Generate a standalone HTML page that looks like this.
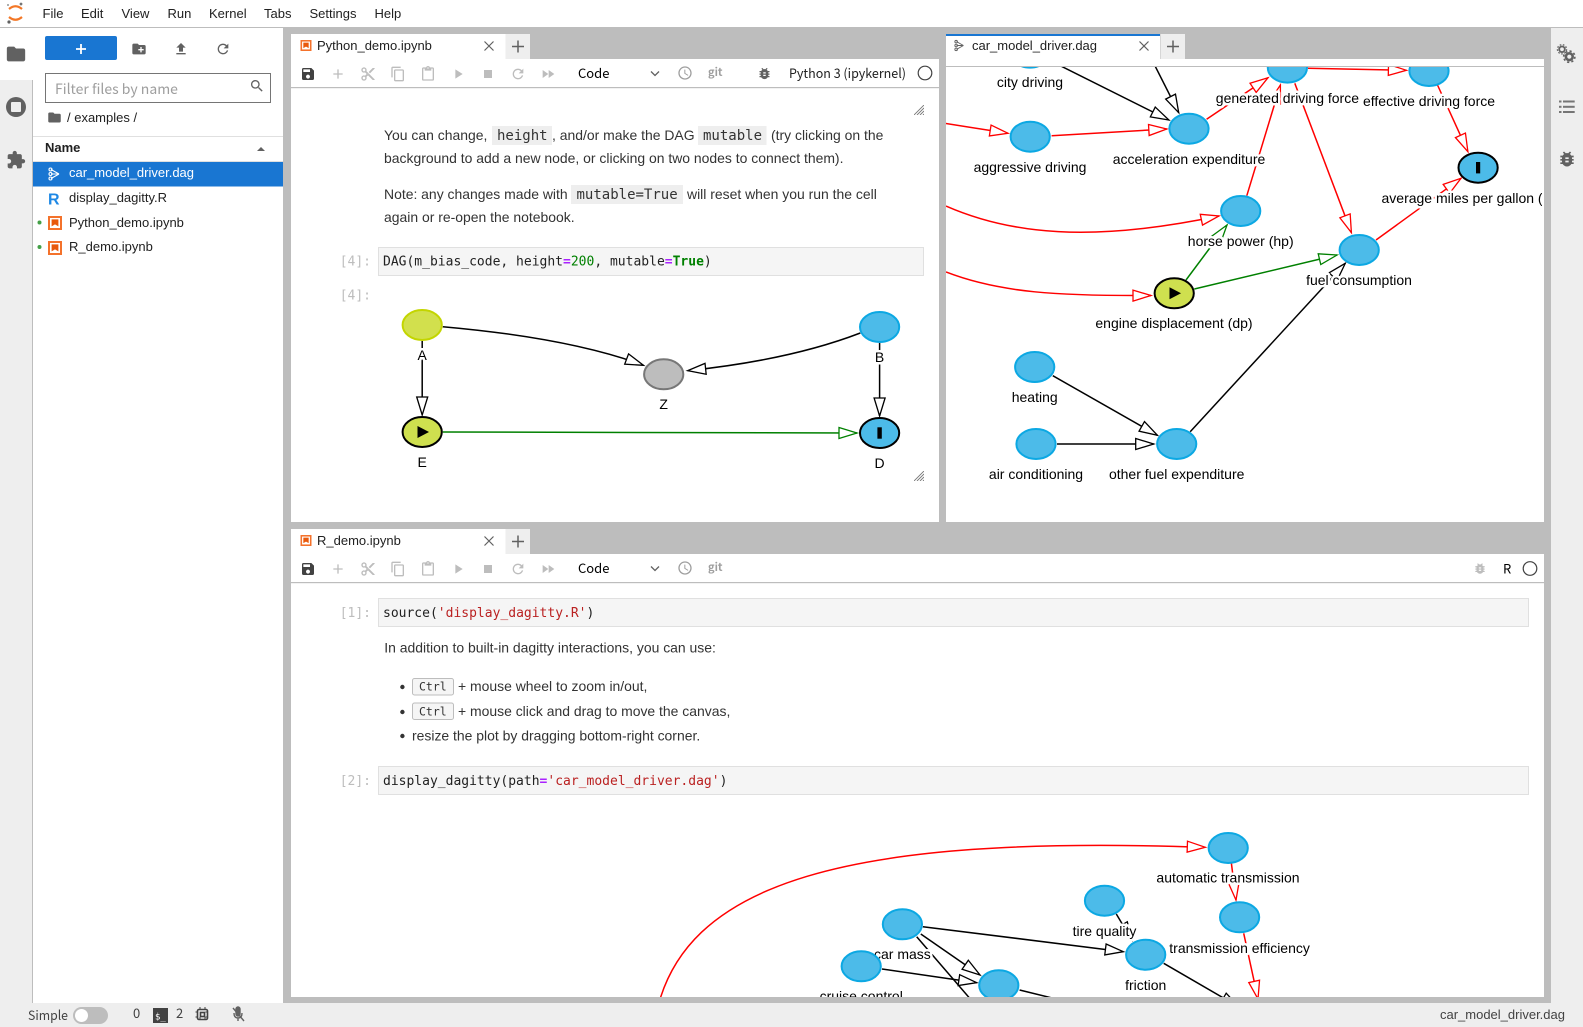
<!DOCTYPE html>
<html><head><meta charset="utf-8"><title>JupyterLab</title>
<style>
html,body{margin:0;padding:0;background:#fff;overflow:hidden}
svg{display:block}
text{font-family:"Liberation Sans",sans-serif;font-size:13px;fill:#212121}
.m{font-family:"DejaVu Sans Mono",monospace;font-size:13px}
.ic{font-family:"DejaVu Sans Mono",monospace;font-size:14px;fill:#333}
.n{font-family:"Noto Sans CJK JP","Liberation Sans",sans-serif}
.p{font-size:13.95px;fill:#333}
.pr{font-family:"DejaVu Sans Mono",monospace;font-size:13px;fill:#bdbdbd;text-anchor:end}
.l{font-size:14px;fill:#000;text-anchor:middle;paint-order:stroke;stroke:#fff;stroke-width:5px;stroke-linejoin:round}
.nb{fill:#4cbbe9;stroke:#0ca8e3;stroke-width:2}
.nk{fill:#4cbbe9;stroke:#000;stroke-width:2}
.e{fill:none;stroke-width:1.5}
.k{stroke:#000;marker-end:url(#hk)}
.r{stroke:#f00;marker-end:url(#hr)}
.g{stroke:#008000;marker-end:url(#hg)}
.kw{fill:#aa22ff;font-weight:bold}.nm{fill:#008000}.st{fill:#ba2121}
</style></head><body>
<svg xmlns="http://www.w3.org/2000/svg" width="1583" height="1027" viewBox="0 0 1583 1027">
<defs>
<marker id="hk" markerUnits="userSpaceOnUse" markerWidth="22" markerHeight="14" refX="19" refY="6.5" orient="auto"><path d="M1 1 L19 6.5 L1 12 Z" fill="#fff" stroke="#000" stroke-width="1.3"/></marker>
<marker id="hr" markerUnits="userSpaceOnUse" markerWidth="22" markerHeight="14" refX="19" refY="6.5" orient="auto"><path d="M1 1 L19 6.5 L1 12 Z" fill="#fff" stroke="#f00" stroke-width="1.3"/></marker>
<marker id="hg" markerUnits="userSpaceOnUse" markerWidth="22" markerHeight="14" refX="19" refY="6.5" orient="auto"><path d="M1 1 L19 6.5 L1 12 Z" fill="#fff" stroke="#008000" stroke-width="1.3"/></marker>
<clipPath id="c1"><rect x="946" y="67" width="598" height="455"/></clipPath>
<clipPath id="c1t"><rect x="946" y="67" width="596" height="455"/></clipPath>
<clipPath id="c2"><rect x="291" y="583" width="1253" height="414"/></clipPath>
<symbol id="save" viewBox="0 0 24 24"><path d="M17 3H5c-1.11 0-2 .9-2 2v14c0 1.1.89 2 2 2h14c1.1 0 2-.9 2-2V7l-4-4zm-5 16c-1.66 0-3-1.34-3-3s1.34-3 3-3 3 1.34 3 3-1.34 3-3 3zm3-10H5V5h10v4z"/></symbol>
<symbol id="plus" viewBox="0 0 24 24"><path d="M19 13h-6v6h-2v-6H5v-2h6V5h2v6h6v2z"/></symbol>
<symbol id="cut" viewBox="0 0 24 24"><path d="M9.64 7.64c.23-.5.36-1.05.36-1.64 0-2.21-1.79-4-4-4S2 3.79 2 6s1.79 4 4 4c.59 0 1.14-.13 1.64-.36L10 12l-2.36 2.36C7.14 14.13 6.59 14 6 14c-2.21 0-4 1.79-4 4s1.79 4 4 4 4-1.79 4-4c0-.59-.13-1.14-.36-1.64L12 14l7 7h3v-1L9.64 7.64zM6 8c-1.1 0-2-.89-2-2s.9-2 2-2 2 .89 2 2-.9 2-2 2zm0 12c-1.1 0-2-.89-2-2s.9-2 2-2 2 .89 2 2-.9 2-2 2zm6-7.5c-.28 0-.5-.22-.5-.5s.22-.5.5-.5.5.22.5.5-.22.5-.5.5zM19 3l-6 6 2 2 7-7V3z"/></symbol>
<symbol id="copy" viewBox="0 0 24 24"><path d="M16 1H4c-1.1 0-2 .9-2 2v14h2V3h12V1zm3 4H8c-1.1 0-2 .9-2 2v14c0 1.1.9 2 2 2h11c1.1 0 2-.9 2-2V7c0-1.1-.9-2-2-2zm0 16H8V7h11v14z"/></symbol>
<symbol id="paste" viewBox="0 0 24 24"><path d="M19 2h-4.18C14.4.84 13.3 0 12 0c-1.3 0-2.4.84-2.82 2H5c-1.1 0-2 .9-2 2v16c0 1.1.9 2 2 2h14c1.1 0 2-.9 2-2V4c0-1.1-.9-2-2-2zm-7 0c.55 0 1 .45 1 1s-.45 1-1 1-1-.45-1-1 .45-1 1-1zm7 18H5V4h2v3h10V4h2v16z"/></symbol>
<symbol id="run" viewBox="0 0 24 24"><path d="M8 5v14l11-7z"/></symbol>
<symbol id="stop" viewBox="0 0 24 24"><path d="M6 6h12v12H6z"/></symbol>
<symbol id="refresh" viewBox="0 0 24 24"><path d="M17.65 6.35C16.2 4.9 14.21 4 12 4c-4.42 0-7.99 3.58-7.99 8s3.57 8 7.99 8c3.73 0 6.84-2.55 7.73-6h-2.08c-.82 2.33-3.04 4-5.65 4-3.31 0-6-2.69-6-6s2.69-6 6-6c1.66 0 3.14.69 4.22 1.78L13 11h7V4l-2.35 2.35z"/></symbol>
<symbol id="ff" viewBox="0 0 24 24"><path d="M4 18l8.5-6L4 6v12zm9-12v12l8.5-6L13 6z"/></symbol>
<symbol id="clock" viewBox="0 0 24 24"><path d="M11.99 2C6.47 2 2 6.48 2 12s4.47 10 9.99 10C17.52 22 22 17.52 22 12S17.52 2 11.99 2zM12 20c-4.42 0-8-3.58-8-8s3.58-8 8-8 8 3.58 8 8-3.58 8-8 8zm.5-13H11v6l5.25 3.15.75-1.23-4.5-2.67z"/></symbol>
<symbol id="bug" viewBox="0 0 24 24"><path d="M20 8h-2.81c-.45-.78-1.07-1.45-1.82-1.96L17 4.41 15.59 3l-2.17 2.17C12.96 5.06 12.49 5 12 5c-.49 0-.96.06-1.41.17L8.41 3 7 4.41l1.62 1.63C7.88 6.55 7.26 7.22 6.81 8H4v2h2.09c-.05.33-.09.66-.09 1v1H4v2h2v1c0 .34.04.67.09 1H4v2h2.81c1.04 1.79 2.97 3 5.19 3s4.15-1.21 5.19-3H20v-2h-2.09c.05-.33.09-.66.09-1v-1h2v-2h-2v-1c0-.34-.04-.67-.09-1H20V8zm-6 8h-4v-2h4v2zm0-4h-4v-2h4v2z"/></symbol>
<symbol id="folder" viewBox="0 0 24 24"><path d="M10 4H4c-1.1 0-1.99.9-1.99 2L2 18c0 1.1.9 2 2 2h16c1.1 0 2-.9 2-2V8c0-1.1-.9-2-2-2h-8l-2-2z"/></symbol>
<symbol id="newf" viewBox="0 0 24 24"><path d="M20 6h-8l-2-2H4c-1.11 0-1.99.89-1.99 2L2 18c0 1.11.89 2 2 2h16c1.11 0 2-.89 2-2V8c0-1.11-.89-2-2-2zm-1 8h-3v3h-2v-3h-3v-2h3V9h2v3h3v2z"/></symbol>
<symbol id="up" viewBox="0 0 24 24"><path d="M9 16h6v-6h4l-7-7-7 7h4v6zm-4 2h14v2H5z"/></symbol>
<symbol id="ext" viewBox="0 0 24 24"><path d="M20.5 11H19V7c0-1.1-.9-2-2-2h-4V3.5C13 2.12 11.88 1 10.5 1S8 2.12 8 3.5V5H4c-1.1 0-1.99.9-1.99 2v3.8H3.5c1.49 0 2.7 1.21 2.7 2.7s-1.21 2.7-2.7 2.7H2V20c0 1.1.9 2 2 2h3.8v-1.5c0-1.49 1.21-2.7 2.7-2.7 1.49 0 2.7 1.21 2.7 2.7V22H17c1.1 0 2-.9 2-2v-4h1.5c1.38 0 2.5-1.12 2.5-2.5S21.88 11 20.5 11z"/></symbol>
<symbol id="search" viewBox="0 0 24 24"><path d="M15.5 14h-.79l-.28-.27C15.41 12.59 16 11.11 16 9.5 16 5.91 13.09 3 9.5 3S3 5.91 3 9.5 5.91 16 9.5 16c1.61 0 3.09-.59 4.23-1.57l.27.28v.79l5 4.99L20.49 19l-4.99-5zm-6 0C7.01 14 5 11.99 5 9.5S7.01 5 9.5 5 14 7.01 14 9.5 11.99 14 9.5 14z"/></symbol>
<symbol id="nbk" viewBox="0 0 14 14"><rect x="1" y="1" width="12" height="12" fill="#fff" stroke="#f4722b" stroke-width="2"/><path d="M3.6 3.4h6.8v7L7 8.4 3.6 10.4z" fill="#e8590c"/></symbol>
<symbol id="dag" viewBox="0 0 14 14"><g fill="none" stroke="currentColor" stroke-width="1.1"><path d="M3 2.5 L11 7 M3 7 H11 M3 11.5 L11 7"/><circle cx="2.5" cy="2.5" r="1.5"/><circle cx="2.5" cy="7" r="1.5"/><circle cx="2.5" cy="11.5" r="1.5"/></g></symbol>
<symbol id="res" viewBox="0 0 10 10"><path d="M0 10 L10 0 M3 10 L10 3 M6 10 L10 6 M9 10 L10 9" stroke="#777" stroke-width=".9" fill="none"/></symbol>
</defs>

<!-- chrome -->
<rect width="1583" height="1027" fill="#fff"/>
<rect x="283" y="27" width="1268" height="976" fill="#bdbdbd"/>
<rect x="0" y="27" width="1583" height="1" fill="#bdbdbd"/>

<!-- menu -->
<g fill="none" stroke="#f37726" stroke-width="2.2"><path d="M9 9 Q15.5 3.5 22 9"/><path d="M9 17 Q15.5 22.5 22 17"/></g>
<circle cx="21" cy="4" r="1.4" fill="#757575"/><circle cx="9" cy="22" r="1.6" fill="#616161"/><circle cx="8" cy="5" r=".9" fill="#757575"/>
<text x="42.5" y="18">File</text><text x="81" y="18">Edit</text><text x="121.5" y="18">View</text><text x="167.5" y="18">Run</text><text x="209" y="18">Kernel</text><text x="264" y="18">Tabs</text><text x="309.5" y="18">Settings</text><text x="374.5" y="18">Help</text>

<!-- left bar -->
<rect x="0" y="80" width="32.5" height="923" fill="#eee"/>
<rect x="32" y="80" width="1" height="923" fill="#bdbdbd"/>
<use href="#folder" x="5" y="43" width="22" height="22" fill="#616161"/>
<circle cx="16" cy="107" r="10" fill="#616161"/><rect x="11" y="102" width="10" height="10" rx="1" fill="#eee"/>
<use href="#ext" x="6" y="150" width="20" height="20" fill="#616161"/>

<!-- file panel -->
<rect x="45" y="36" width="72" height="24" rx="2" fill="#1976d2"/>
<path d="M76 49h10M81 44v10" stroke="#fff" stroke-width="1.8"/>
<use href="#newf" x="131" y="41" width="16" height="16" fill="#616161"/>
<use href="#up" x="173" y="41" width="16" height="16" fill="#616161"/>
<use href="#refresh" x="215" y="41" width="16" height="16" fill="#616161"/>
<rect x="45.5" y="73.5" width="225" height="29" fill="#fff" stroke="#757575"/>
<text class="n" x="55" y="94" style="font-size:14px;fill:#9e9e9e">Filter files by name</text>
<use href="#search" x="249" y="78" width="16" height="16" fill="#616161"/>
<use href="#folder" x="47" y="110" width="15" height="15" fill="#616161"/>
<text x="67" y="122">/ examples /</text>
<rect x="33" y="136" width="250" height="1" fill="#e0e0e0"/>
<text x="45" y="152" style="font-weight:bold">Name</text>
<path d="M257 151 L265 151 L261 147 Z" fill="#616161"/>
<rect x="33" y="161" width="250" height="1" fill="#e0e0e0"/>
<rect x="33" y="162" width="250" height="24.5" fill="#1976d2"/>
<use href="#dag" x="48" y="167" width="14" height="14" style="color:#fff"/>
<text x="69" y="177" style="fill:#fff">car_model_driver.dag</text>
<text x="48" y="204.5" style="font-weight:bold;font-size:16px;fill:#1e88e5">R</text>
<text x="69" y="202">display_dagitty.R</text>
<circle cx="39.5" cy="222.5" r="2" fill="#43a047"/>
<use href="#nbk" x="48" y="216" width="14" height="14"/>
<text x="69" y="227">Python_demo.ipynb</text>
<circle cx="39.5" cy="247" r="2" fill="#43a047"/>
<use href="#nbk" x="48" y="241" width="14" height="14"/>
<text x="69" y="251">R_demo.ipynb</text>

<!-- right bar -->
<rect x="1551" y="28" width="32" height="975" fill="#eee"/>
<g fill="none" stroke="#616161"><circle cx="1562" cy="49.3" r="2.8" stroke-width="1.8"/><circle cx="1562" cy="49.3" r="4.6" stroke-width="1.3" stroke-dasharray="1.6 1.6"/><circle cx="1569.3" cy="56.7" r="3.4" stroke-width="2.6"/><circle cx="1569.3" cy="56.7" r="5.6" stroke-width="1.6" stroke-dasharray="2.2 2.2"/></g>
<g fill="#757575"><rect x="1559" y="100.5" width="2.5" height="2"/><rect x="1563" y="100.5" width="11.7" height="2"/><rect x="1559" y="105.8" width="2.5" height="2"/><rect x="1563" y="105.8" width="11.7" height="2"/><rect x="1559" y="111" width="2.5" height="2"/><rect x="1563" y="111" width="11.7" height="2"/></g>
<use href="#bug" x="1557" y="149" width="20" height="20" fill="#616161"/>

<!-- status -->
<rect x="0" y="1003" width="1583" height="24" fill="#eee"/>
<text class="n" x="28" y="1020" textLength="40" lengthAdjust="spacingAndGlyphs" style="fill:#424242">Simple</text>
<rect x="73" y="1007" width="35" height="17" rx="8.5" fill="#bdbdbd"/><circle cx="81.5" cy="1015.5" r="6.5" fill="#fff"/>
<text class="n" x="133" y="1018" style="fill:#424242">0</text>
<rect x="153" y="1008" width="15" height="15" fill="#424242"/>
<text x="155" y="1019.5" style="font-size:9px;fill:#fff;font-family:'DejaVu Sans Mono',monospace">$_</text>
<text class="n" x="176" y="1018" style="fill:#424242">2</text>
<g fill="none" stroke="#424242" stroke-width="1.6"><rect x="197.5" y="1009.5" width="10" height="10" rx="1.5"/><rect x="200.5" y="1012.5" width="4" height="4"/><path d="M200 1007v13.5M205 1007v15M195.5 1012h14M195.5 1017h14" stroke-width="1" stroke-dasharray="2 8"/></g>
<g fill="none" stroke="#616161" stroke-width="1.4"><path d="M233 1008 L244 1021"/><path d="M236 1009 a2 2 0 0 1 4 0 v5 a2 2 0 0 1 -4 0z" fill="#616161"/><path d="M234 1013 q0 5 4 5 t4 -5 M238 1018 v3"/></g>
<text x="1565" y="1019" text-anchor="end" style="fill:#424242">car_model_driver.dag</text>

<!-- Python panel -->
<rect x="291" y="34" width="214.5" height="25" fill="#fff"/>
<rect x="505.5" y="34" width="24.5" height="25" fill="#eee"/>
<path d="M512 46.5h12M518 40.5v12" stroke="#616161" stroke-width="1.5"/>
<use href="#nbk" x="300.5" y="40" width="11" height="11"/>
<text x="317" y="50">Python_demo.ipynb</text>
<path d="M484.5 41.5 L493.5 50.5 M493.5 41.5 L484.5 50.5" stroke="#616161" stroke-width="1.2"/>
<rect x="291" y="59" width="648" height="463" fill="#fff"/>
<rect x="291" y="87" width="648" height="1.2" fill="#bdbdbd"/>
<g>
<use href="#save" x="300" y="66" width="16" height="16" fill="#424242"/>
<use href="#plus" x="330" y="66" width="16" height="16" fill="#bdbdbd"/>
<use href="#cut" x="360" y="66" width="16" height="16" fill="#bdbdbd"/>
<use href="#copy" x="390" y="66" width="16" height="16" fill="#bdbdbd"/>
<use href="#paste" x="420" y="66" width="16" height="16" fill="#bdbdbd"/>
<use href="#run" x="450" y="66" width="16" height="16" fill="#bdbdbd"/>
<use href="#stop" x="480" y="66" width="16" height="16" fill="#bdbdbd"/>
<use href="#refresh" x="510" y="66" width="16" height="16" fill="#bdbdbd"/>
<use href="#ff" x="540" y="66" width="16" height="16" fill="#bdbdbd"/>
<text class="n" x="578" y="78" style="fill:#000">Code</text>
<path d="M651 71.5 L655 75.5 L659 71.5" fill="none" stroke="#616161" stroke-width="1.3"/>
<use href="#clock" x="677" y="65" width="16" height="16" fill="#9e9e9e"/>
<text class="n" x="708" y="76" style="font-size:11px;font-weight:bold;fill:#9e9e9e">git</text>
<use href="#bug" x="757" y="66" width="15" height="15" fill="#616161"/>
<text class="n" x="789" y="78" textLength="117" lengthAdjust="spacingAndGlyphs" style="fill:#212121">Python 3 (ipykernel)</text>
<circle cx="925" cy="73" r="6.8" fill="none" stroke="#424242" stroke-width="1.2"/>
</g>
<use href="#res" x="914" y="105" width="10" height="10"/>
<rect x="492" y="126" width="60" height="19" fill="#eee"/><rect x="698" y="126" width="68.5" height="19" fill="#eee"/><rect x="571" y="185" width="112" height="19" fill="#eee"/>
<text class="p" x="384" y="140">You can change,</text>
<text class="ic" x="497" y="140">height</text>
<text class="p" x="552" y="140">, and/or make the DAG</text>
<text class="ic" x="703" y="140">mutable</text>
<text class="p" x="771" y="140">(try clicking on the</text>
<text class="p" x="384" y="163">background to add a new node, or clicking on two nodes to connect them).</text>
<text class="p" x="384" y="199">Note: any changes made with</text>
<text class="ic" x="576.5" y="199">mutable=True</text>
<text class="p" x="687" y="199">will reset when you run the cell</text>
<text class="p" x="384" y="222">again or re-open the notebook.</text>
<rect x="378.5" y="247.5" width="545" height="28" fill="#f5f5f5" stroke="#e0e0e0"/>
<text class="pr" x="371" y="265.5">[4]:</text>
<text class="m" x="383" y="265.5">DAG(m_bias_code, height<tspan class="kw">=</tspan><tspan class="nm">200</tspan>, mutable<tspan class="kw">=</tspan><tspan class="nm" font-weight="bold">True</tspan>)</text>
<text class="pr" x="371" y="299.5">[4]:</text>

<!-- small DAG -->
<path class="e k" d="M422.2 341 L422.2 415"/>
<path class="e k" d="M879.6 343 L879.6 416"/>
<path class="e k" d="M442.8 326.7 Q570 338 643.5 365.3"/>
<path class="e k" d="M860.3 333 Q790 360 687.7 370.7"/>
<path class="e g" d="M442.8 432 L857 433"/>
<text class="l" x="422.2" y="360">A</text>
<text class="l" x="879.6" y="362">B</text>
<text class="l" x="663.7" y="409">Z</text>
<text class="l" x="422.2" y="467">E</text>
<text class="l" x="879.6" y="468">D</text>
<ellipse cx="422.2" cy="325" rx="19.6" ry="15" fill="#d2e04d" stroke="#c3d500" stroke-width="2"/>
<ellipse cx="879.6" cy="327" rx="19.6" ry="15" class="nb"/>
<ellipse cx="663.7" cy="374.3" rx="19.6" ry="15" fill="#bdbdbd" stroke="#777" stroke-width="2"/>
<ellipse cx="422.2" cy="432" rx="19.6" ry="15" fill="#cfe04f" stroke="#000" stroke-width="2"/>
<ellipse cx="879.6" cy="433" rx="19.6" ry="15" class="nk"/>
<path d="M417.5 426 L429 432 L417.5 438 Z" fill="#000"/>
<rect x="877.4" y="427.3" width="4.4" height="11.4" fill="#000"/>
<use href="#res" x="914" y="471" width="10" height="10"/>

<!-- DAG file panel -->
<rect x="946" y="34" width="214" height="25" fill="#fff"/>
<rect x="946" y="34" width="214" height="2" fill="#1976d2"/>
<rect x="1160.5" y="34" width="24.5" height="25" fill="#eee"/>
<path d="M1167 46.5h12M1173 40.5v12" stroke="#616161" stroke-width="1.5"/>
<use href="#dag" x="954" y="39.5" width="12" height="12" style="color:#616161"/>
<text x="972" y="50">car_model_driver.dag</text>
<path d="M1139.5 41.5 L1148.5 50.5 M1148.5 41.5 L1139.5 50.5" stroke="#616161" stroke-width="1.2"/>
<rect x="946" y="59" width="598" height="463" fill="#fff"/>
<g clip-path="url(#c1)">
<path class="e k" d="M1040 55.6 L1168.9 120"/>
<path class="e k" d="M1148 52 L1178.7 112.7"/>
<path class="e r" d="M930 121 L1008 133.3"/>
<path class="e r" d="M1051.6 135.7 L1166.8 129"/>
<path class="e r" d="M1206.6 119.3 L1268 77.7"/>
<path class="e r" d="M1307.9 68.3 L1406.4 70.3"/>
<path class="e r" d="M1437.5 85 L1467.9 151.7"/>
<path class="e r" d="M1294.8 83.3 L1351.4 232.7"/>
<path class="e r" d="M1246.8 195.7 L1280.4 85"/>
<path class="e r" d="M946 206 C1010 234 1090 243 1219 216"/>
<path class="e r" d="M946 272 C1000 293 1060 296 1151 295.5"/>
<path class="e g" d="M1186 280 L1227 225"/>
<path class="e g" d="M1194.3 289 L1337 255"/>
<path class="e r" d="M1376 240 L1461 178.3"/>
<path class="e k" d="M1190.2 431.7 L1345.3 263.3"/>
<path class="e k" d="M1052.8 375.7 L1157.4 435.3"/>
<path class="e k" d="M1057 444 L1153.7 444"/>
</g>
<g clip-path="url(#c1t)">
<text class="l" x="1030" y="87">city driving</text>
<text class="l" x="1287.4" y="103">generated driving force</text>
<text class="l" x="1429" y="106">effective driving force</text>
<text class="l" x="1189" y="164">acceleration expenditure</text>
<text class="l" x="1030" y="172">aggressive driving</text>
<text class="l" x="1478" y="203">average miles per gallon (mpg)</text>
<text class="l" x="1240.7" y="246">horse power (hp)</text>
<text class="l" x="1359" y="285">fuel consumption</text>
<text class="l" x="1174" y="328">engine displacement (dp)</text>
<text class="l" x="1034.7" y="402">heating</text>
<text class="l" x="1036" y="479">air conditioning</text>
<text class="l" x="1176.7" y="479">other fuel expenditure</text>
</g>
<g clip-path="url(#c1)">
<ellipse cx="1030" cy="52.6" rx="19.6" ry="15" class="nb"/>
<ellipse cx="1030.2" cy="136.7" rx="19.6" ry="15" class="nb"/>
<ellipse cx="1189" cy="128.7" rx="19.6" ry="15" class="nb"/>
<ellipse cx="1287.4" cy="67.6" rx="19.6" ry="15" class="nb"/>
<ellipse cx="1429" cy="71" rx="19.6" ry="15" class="nb"/>
<ellipse cx="1478.1" cy="167.7" rx="19.6" ry="15" class="nk"/>
<rect x="1476" y="162" width="4.2" height="11.4" fill="#000"/>
<ellipse cx="1240.7" cy="211" rx="19.6" ry="15" class="nb"/>
<ellipse cx="1359.2" cy="250" rx="19.6" ry="15" class="nb"/>
<ellipse cx="1174.2" cy="293.3" rx="19.6" ry="15" fill="#cfe04f" stroke="#000" stroke-width="2"/>
<path d="M1169.5 287.3 L1181 293.3 L1169.5 299.3 Z" fill="#000"/>
<ellipse cx="1034.7" cy="367" rx="19.6" ry="15" class="nb"/>
<ellipse cx="1036" cy="444" rx="19.6" ry="15" class="nb"/>
<ellipse cx="1176.7" cy="444" rx="19.6" ry="15" class="nb"/>
</g>
<rect x="946" y="59" width="598" height="7.5" fill="#fff"/>
<rect x="946" y="66" width="598" height="1" fill="#bdbdbd"/>

<!-- R panel -->
<rect x="291" y="529" width="214.5" height="25" fill="#fff"/>
<rect x="505.5" y="529" width="24.5" height="25" fill="#eee"/>
<path d="M512 541.5h12M518 535.5v12" stroke="#616161" stroke-width="1.5"/>
<use href="#nbk" x="300.5" y="535" width="11" height="11"/>
<text x="317" y="545">R_demo.ipynb</text>
<path d="M484.5 536.5 L493.5 545.5 M493.5 536.5 L484.5 545.5" stroke="#616161" stroke-width="1.2"/>
<rect x="291" y="554" width="1253" height="443" fill="#fff"/>
<rect x="291" y="582" width="1253" height="1.2" fill="#bdbdbd"/>
<use href="#save" x="300" y="561" width="16" height="16" fill="#424242"/>
<use href="#plus" x="330" y="561" width="16" height="16" fill="#bdbdbd"/>
<use href="#cut" x="360" y="561" width="16" height="16" fill="#bdbdbd"/>
<use href="#copy" x="390" y="561" width="16" height="16" fill="#bdbdbd"/>
<use href="#paste" x="420" y="561" width="16" height="16" fill="#bdbdbd"/>
<use href="#run" x="450" y="561" width="16" height="16" fill="#bdbdbd"/>
<use href="#stop" x="480" y="561" width="16" height="16" fill="#bdbdbd"/>
<use href="#refresh" x="510" y="561" width="16" height="16" fill="#bdbdbd"/>
<use href="#ff" x="540" y="561" width="16" height="16" fill="#bdbdbd"/>
<text class="n" x="578" y="573" style="fill:#000">Code</text>
<path d="M651 566.5 L655 570.5 L659 566.5" fill="none" stroke="#616161" stroke-width="1.3"/>
<use href="#clock" x="677" y="560" width="16" height="16" fill="#9e9e9e"/>
<text class="n" x="708" y="571" style="font-size:11px;font-weight:bold;fill:#9e9e9e">git</text>
<use href="#bug" x="1473" y="561.5" width="14" height="14" fill="#bdbdbd"/>
<text class="n" x="1503" y="573.5" style="fill:#000">R</text>
<circle cx="1530" cy="568.5" r="6.8" fill="none" stroke="#424242" stroke-width="1.2"/>

<rect x="378.5" y="598.5" width="1150" height="28" fill="#f5f5f5" stroke="#e0e0e0"/>
<text class="pr" x="371" y="617">[1]:</text>
<text class="m" x="383" y="617">source(<tspan class="st">'display_dagitty.R'</tspan>)</text>
<text class="p" x="384.3" y="652.5">In addition to built-in dagitty interactions, you can use:</text>
<circle cx="402.4" cy="687" r="2.2" fill="#333"/><circle cx="402.4" cy="712" r="2.2" fill="#333"/><circle cx="402.4" cy="736" r="2.2" fill="#333"/>
<rect x="412.5" y="678.5" width="41" height="16.5" rx="2" fill="#f5f5f5" stroke="#bdbdbd"/>
<rect x="412.5" y="703" width="41" height="16.5" rx="2" fill="#f5f5f5" stroke="#bdbdbd"/>
<text class="m" x="419" y="690.5" style="fill:#333;font-size:11.5px">Ctrl</text>
<text class="m" x="419" y="715.5" style="fill:#333;font-size:11.5px">Ctrl</text>
<text class="p" x="458" y="691">+ mouse wheel to zoom in/out,</text>
<text class="p" x="458" y="716">+ mouse click and drag to move the canvas,</text>
<text class="p" x="412" y="740.5">resize the plot by dragging bottom-right corner.</text>
<rect x="378.5" y="766.5" width="1150" height="28" fill="#f5f5f5" stroke="#e0e0e0"/>
<text class="pr" x="371" y="785">[2]:</text>
<text class="m" x="383" y="785">display_dagitty(path<tspan class="kw">=</tspan><tspan class="st">'car_model_driver.dag'</tspan>)</text>

<g clip-path="url(#c2)">
<path class="e r" d="M655 1020 C680 880 850 835 1205.3 847.3"/>
<path class="e r" d="M1231.4 863.3 L1236 900"/>
<path class="e r" d="M1243.7 933.3 L1258 999"/>
<path class="e k" d="M922.9 926.7 L1123.3 951.7"/>
<path class="e k" d="M920.8 934 L980 975"/>
<path class="e k" d="M916.7 936.7 L989 1020.7"/>
<path class="e k" d="M882 969 L976.7 982.7"/>
<path class="e k" d="M1019.6 990 L1100 1009.8"/>
<path class="e k" d="M1116.3 914 L1131.8 940"/>
<path class="e k" d="M1163.7 963.3 L1239 1007"/>
<text class="l" x="1228" y="882.5">automatic transmission</text>
<text class="l" x="1104.5" y="936">tire quality</text>
<text class="l" x="1239.6" y="953">transmission efficiency</text>
<text class="l" x="1145.7" y="990">friction</text>
<text class="l" x="902.4" y="959">car mass</text>
<text class="l" x="861.2" y="1001">cruise control</text>
<ellipse cx="1228.2" cy="848" rx="19.6" ry="15" class="nb"/>
<ellipse cx="1104.5" cy="900.7" rx="19.6" ry="15" class="nb"/>
<ellipse cx="1239.6" cy="917.3" rx="19.6" ry="15" class="nb"/>
<ellipse cx="1145.7" cy="954.7" rx="19.6" ry="15" class="nb"/>
<ellipse cx="902.4" cy="924.3" rx="19.6" ry="15" class="nb"/>
<ellipse cx="861.2" cy="966.3" rx="19.6" ry="15" class="nb"/>
<ellipse cx="998.8" cy="985.3" rx="19.6" ry="15" class="nb"/>
</g>
</svg>
</body></html>
